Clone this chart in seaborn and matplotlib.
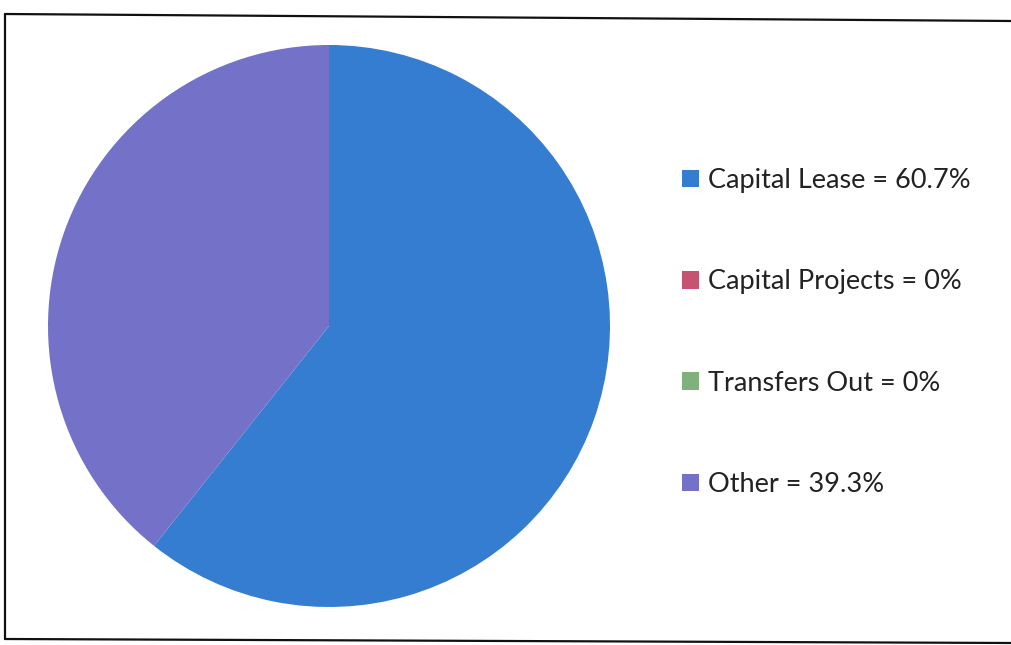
import matplotlib
matplotlib.use("Agg")
import matplotlib.pyplot as plt
from matplotlib.patches import Patch
from matplotlib.lines import Line2D
import seaborn as sns

# Fund expenditure shares
categories = ["Capital Lease", "Capital Projects", "Transfers Out", "Other"]
shares = [60.7, 0, 0, 39.3]
share_labels = ["60.7%", "0%", "0%", "39.3%"]
colors = ["#347dd0", "#c65470", "#80b07c", "#7472c8"]

sns.set_theme(style="white")
plt.rcParams["font.family"] = ["Lato", "DejaVu Sans"]

fig = plt.figure(figsize=(10.12, 6.45), dpi=100)
fig.patch.set_facecolor("white")

# Pie axes: centred at (329, 326) px, radius ~281 px
W, H = 1012, 645
cx, cy, r = 329, 326, 281
ax = fig.add_axes([(cx - r) / W, 1 - (cy + r) / H, 2 * r / W, 2 * r / H])
wedges, _ = ax.pie(shares, colors=colors, startangle=90, counterclock=False,
                   radius=1.0, wedgeprops=dict(linewidth=0))
ax.set_xlim(-1, 1)
ax.set_ylim(-1, 1)
ax.set_aspect("equal")
ax.axis("off")

# Legend with value text
handles = [Patch(facecolor=c, edgecolor="none") for c in colors]
labels = [f"{n} = {v}" for n, v in zip(categories, share_labels)]
fig.legend(handles, labels, loc="upper left",
           bbox_to_anchor=(658 / W, 1 - 144 / H), frameon=False,
           fontsize=19.5, labelspacing=2.81, handlelength=0.6, handleheight=0.6,
           handletextpad=0.35, labelcolor="#222222")

# Slightly skewed outer frame
frame = dict(color="#111111", linewidth=1.6, transform=fig.transFigure)
fig.add_artist(Line2D([5 / W, 1.0], [1 - 14 / H, 1 - 21 / H], **frame))
fig.add_artist(Line2D([5 / W, 1.0], [1 - 639 / H, 1 - 643 / H], **frame))
fig.add_artist(Line2D([5 / W, 5 / W], [1 - 14 / H, 1 - 639 / H], **frame))

fig.savefig("out.png", dpi=100, facecolor="white")
